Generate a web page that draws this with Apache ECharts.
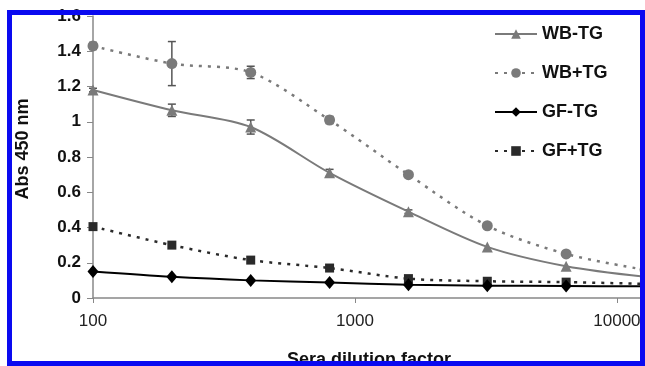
<!DOCTYPE html>
<html>
<head>
<meta charset="utf-8">
<script src="https://cdn.jsdelivr.net/npm/echarts@6/dist/echarts.min.js"></script>
<style>
  html, body { margin: 0; padding: 0; background: #fff; }
  #wrap { position: relative; width: 645px; height: 366px; overflow: hidden; }
  #chart { position: absolute; left: 0; top: 0; width: 645px; height: 366px; }
  #frame {
    position: absolute; left: 7px; top: 10px; right: 0; bottom: 0;
    border: 5px solid #0a0af0; pointer-events: none; z-index: 10;
  }
</style>
</head>
<body>
<div id="wrap">
  <div id="chart"></div>
  <div id="frame"></div>
</div>
<script>
// dilution factors
var dilutions = [100, 200, 400, 800, 1600, 3200, 6400, 12800];

// Abs 450 nm readings
var wbMinusTG = [1.18, 1.065, 0.97, 0.71, 0.49, 0.29, 0.18, 0.12];
var wbPlusTG  = [1.43, 1.33, 1.28, 1.01, 0.70, 0.41, 0.25, 0.16];
var gfMinusTG = [0.15, 0.12, 0.10, 0.088, 0.075, 0.07, 0.068, 0.066];
var gfPlusTG  = [0.405, 0.30, 0.215, 0.17, 0.11, 0.095, 0.09, 0.08];

// error bar half widths
var wbMinusErr = [0.01, 0.035, 0.04, 0.02, 0.01, 0, 0, 0];
var wbPlusErr  = [0.02, 0.125, 0.035, 0.02, 0.01, 0, 0, 0];

var yTicks = [0, 0.2, 0.4, 0.6, 0.8, 1, 1.2, 1.4, 1.6];

var font = 'Liberation Sans';

function pairs(vals) {
  return dilutions.map(function (d, i) { return [d, vals[i]]; });
}
function errPairs(vals, errs) {
  var out = [];
  dilutions.forEach(function (d, i) {
    if (errs[i] > 0) out.push([d, vals[i] - errs[i], vals[i] + errs[i]]);
  });
  return out;
}

function errorBars(params, api) {
  var x = api.value(0);
  var lo = api.coord([x, api.value(1)]);
  var hi = api.coord([x, api.value(2)]);
  var cap = 4;
  var st = { stroke: '#555', lineWidth: 1.5 };
  return {
    type: 'group',
    children: [
      { type: 'line', shape: { x1: lo[0], y1: lo[1], x2: hi[0], y2: hi[1] }, style: st },
      { type: 'line', shape: { x1: lo[0] - cap, y1: lo[1], x2: lo[0] + cap, y2: lo[1] }, style: st },
      { type: 'line', shape: { x1: hi[0] - cap, y1: hi[1], x2: hi[0] + cap, y2: hi[1] }, style: st }
    ]
  };
}

var myChart = echarts.init(document.getElementById('chart'));

var option = {
  animation: false,
  backgroundColor: '#fff',
  textStyle: { fontFamily: font },
  grid: { left: 93, right: 0, top: 16, bottom: 68, outerBoundsMode: 'none' },
  legend: {
    orient: 'vertical',
    left: 489,
    top: 20,
    itemWidth: 42,
    itemHeight: 12,
    itemGap: 21,
    data: ['WB-TG', 'WB+TG', 'GF-TG', 'GF+TG'],
    textStyle: { fontFamily: font, fontSize: 18, fontWeight: 'bold', color: '#111' }
  },
  xAxis: {
    type: 'log',
    logBase: 10,
    min: 100,
    max: 12800,
    name: 'Sera dilution factor',
    nameLocation: 'middle',
    nameGap: 53,
    nameTextStyle: { fontFamily: font, fontSize: 18, fontWeight: 'bold', color: '#111' },
    axisLine: { lineStyle: { color: '#888', width: 1.5 } },
    axisTick: { show: true, length: 5, lineStyle: { color: '#888' } },
    minorTick: { show: false },
    splitLine: { show: false },
    axisLabel: {
      fontFamily: font, fontSize: 17, color: '#222', margin: 15,
      showMaxLabel: false,
      formatter: function (v) { return String(Math.round(v)); }
    }
  },
  yAxis: {
    type: 'value',
    min: 0,
    max: 1.6,
    interval: 0.2,
    name: 'Abs 450 nm',
    nameLocation: 'middle',
    nameGap: 61,
    nameTextStyle: { fontFamily: font, fontSize: 18, fontWeight: 'bold', color: '#111', padding: [0, 0, 0, 16] },
    axisLine: { show: true, lineStyle: { color: '#888', width: 1.5 } },
    axisTick: { show: true, length: 6, lineStyle: { color: '#888' } },
    splitLine: { show: false },
    axisLabel: {
      fontFamily: font, fontSize: 17, fontWeight: 'bold', color: '#111', margin: 12,
      formatter: function (v) { return yTicks.indexOf(+v.toFixed(1)) >= 0 ? String(+v.toFixed(1)) : ''; }
    }
  },
  series: [
    {
      name: 'WB-TG', type: 'line', smooth: 0.3, data: pairs(wbMinusTG),
      symbol: 'triangle', symbolSize: 11,
      itemStyle: { color: '#7a7a7a' },
      lineStyle: { color: '#7a7a7a', width: 2 },
      z: 3
    },
    {
      name: 'WB+TG', type: 'line', smooth: 0.3, data: pairs(wbPlusTG),
      symbol: 'circle', symbolSize: 11,
      itemStyle: { color: '#7a7a7a' },
      lineStyle: { color: '#7a7a7a', width: 2.5, type: [3, 6] },
      z: 3
    },
    {
      name: 'GF-TG', type: 'line', smooth: 0.3, data: pairs(gfMinusTG),
      symbol: 'diamond', symbolSize: [11, 13],
      itemStyle: { color: '#000' },
      lineStyle: { color: '#000', width: 2 },
      z: 4
    },
    {
      name: 'GF+TG', type: 'line', smooth: 0.3, data: pairs(gfPlusTG),
      symbol: 'rect', symbolSize: 9,
      itemStyle: { color: '#2a2a2a' },
      lineStyle: { color: '#2a2a2a', width: 2.5, type: [3, 6] },
      z: 3
    },
    {
      type: 'custom', renderItem: errorBars, data: errPairs(wbMinusTG, wbMinusErr),
      encode: { x: 0, y: [1, 2] }, z: 2, silent: true
    },
    {
      type: 'custom', renderItem: errorBars, data: errPairs(wbPlusTG, wbPlusErr),
      encode: { x: 0, y: [1, 2] }, z: 2, silent: true
    }
  ]
};

myChart.setOption(option);
</script>
</body>
</html>
